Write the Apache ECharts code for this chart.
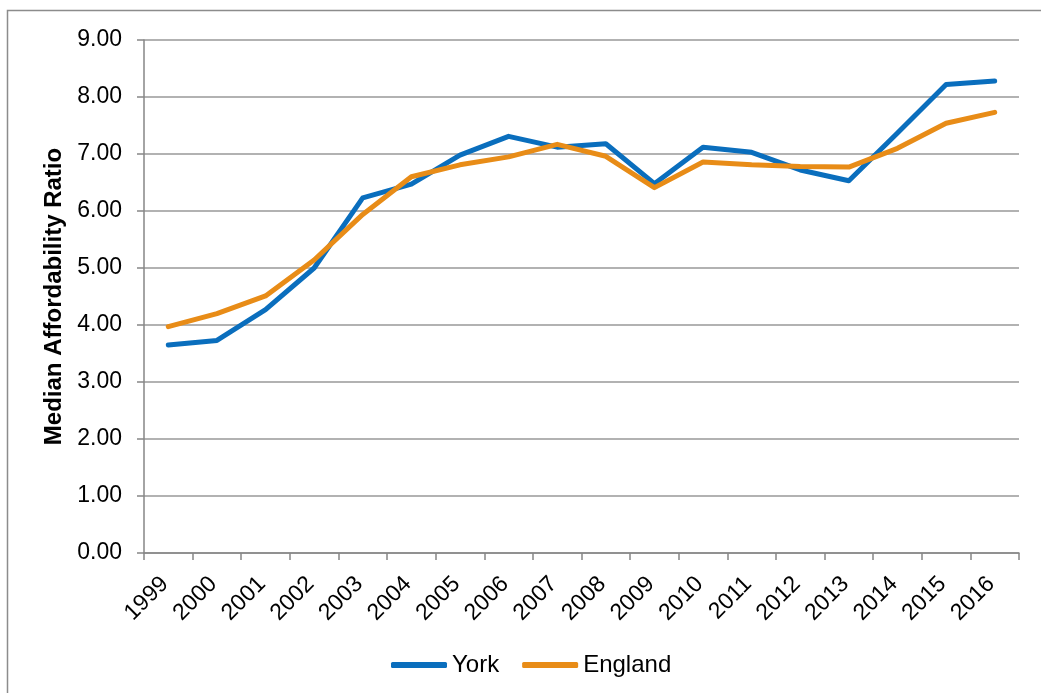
<!DOCTYPE html>
<html>
<head>
<meta charset="utf-8">
<script src="https://cdn.jsdelivr.net/npm/echarts@6/dist/echarts.min.js"></script>
<style>
  html, body { margin: 0; padding: 0; background: #fff; }
  #chart { width: 1041px; height: 693px; }
</style>
</head>
<body>
<div id="chart"></div>
<script>
// Median house price to earnings ratio, 1999-2016
const years = ['1999','2000','2001','2002','2003','2004','2005','2006','2007','2008','2009','2010','2011','2012','2013','2014','2015','2016'];
const york = [3.65, 3.73, 4.27, 5.00, 6.23, 6.47, 6.98, 7.31, 7.12, 7.18, 6.48, 7.12, 7.03, 6.72, 6.53, 7.37, 8.22, 8.28];
const england = [3.97, 4.20, 4.51, 5.14, 5.94, 6.60, 6.81, 6.95, 7.17, 6.96, 6.41, 6.86, 6.81, 6.78, 6.77, 7.10, 7.54, 7.73];
const yTicks = { min: 0, max: 9, interval: 1 };

const chart = echarts.init(document.getElementById('chart'), null, { renderer: 'canvas' });
const font = 'Liberation Sans, Arial, sans-serif';

chart.setOption({
  animation: false,
  backgroundColor: '#ffffff',
  graphic: [{
    type: 'rect',
    shape: { x: 7.5, y: 10.5, width: 1200, height: 900 },
    style: { fill: 'none', stroke: '#8c8c8c', lineWidth: 1.5 },
    silent: true
  }],
  grid: { left: 144, right: 22, top: 40, bottom: 140 },
  legend: {
    top: 648,
    left: 386,
    itemWidth: 56,
    itemHeight: 6,
    itemGap: 23,
    icon: 'roundRect',
    textStyle: { fontFamily: font, fontSize: 24, color: '#000' },
    data: ['York', 'England']
  },
  xAxis: {
    type: 'category',
    data: years,
    boundaryGap: true,
    axisLine: { lineStyle: { color: '#868686', width: 1.5 } },
    axisTick: { show: true, alignWithLabel: false, length: 7, lineStyle: { color: '#868686', width: 1.5 } },
    axisLabel: { rotate: 45, fontFamily: font, fontSize: 23, color: '#000', margin: 24, padding: [0, 5, 0, 0], interval: 0 },
    splitLine: { show: false }
  },
  yAxis: {
    type: 'value',
    min: yTicks.min, max: yTicks.max, interval: yTicks.interval,
    name: 'Median Affordability Ratio',
    nameLocation: 'middle',
    nameGap: 76,
    nameTextStyle: { fontFamily: font, fontSize: 24, fontWeight: 'bold', color: '#000' },
    axisLine: { show: true, lineStyle: { color: '#868686', width: 1.5 } },
    axisTick: { show: true, length: 7, lineStyle: { color: '#868686', width: 1.5 } },
    axisLabel: { fontFamily: font, fontSize: 23, color: '#000', margin: 22, formatter: v => v.toFixed(2) },
    splitLine: { show: true, lineStyle: { color: '#999999', width: 1.5 } }
  },
  series: [
    {
      name: 'York', type: 'line', data: york,
      symbol: 'none', showSymbol: false,
      itemStyle: { color: '#0a6ebd' },
      lineStyle: { color: '#0a6ebd', width: 5, cap: 'round', join: 'round' }
    },
    {
      name: 'England', type: 'line', data: england,
      symbol: 'none', showSymbol: false,
      itemStyle: { color: '#e88c17' },
      lineStyle: { color: '#e88c17', width: 5, cap: 'round', join: 'round' }
    }
  ]
});
</script>
</body>
</html>
